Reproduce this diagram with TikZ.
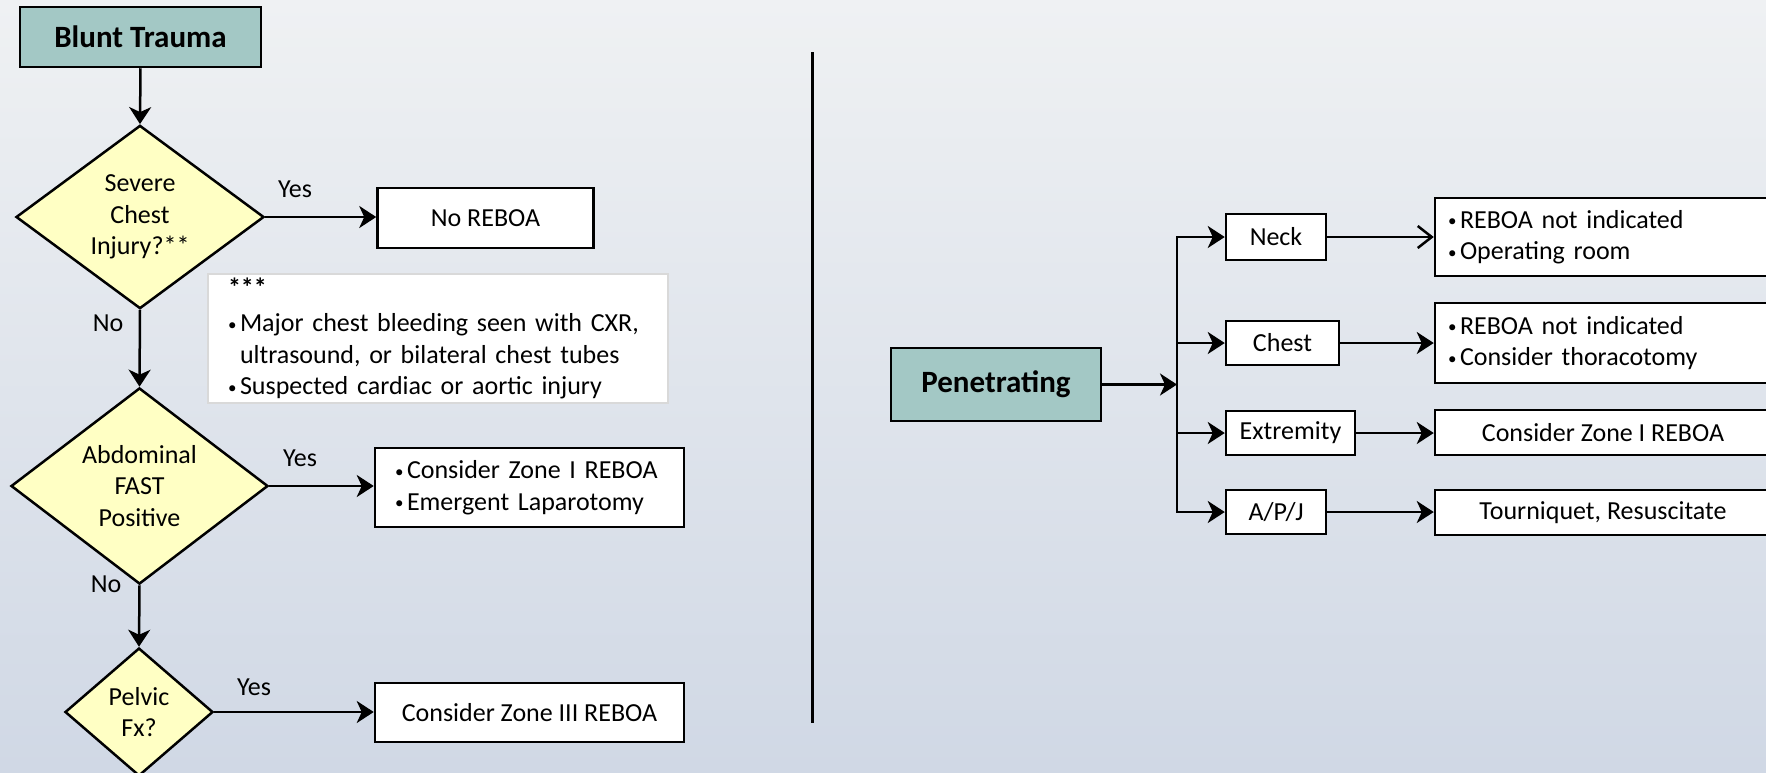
\documentclass[tikz,border=0pt]{standalone}
\usepackage{fontspec}
\setmainfont{Carlito}
\usetikzlibrary{arrows.meta,shapes.geometric}
\definecolor{bgtop}{RGB}{239,241,243}
\definecolor{bgbot}{RGB}{208,216,229}
\definecolor{tealfill}{RGB}{163,200,197}
\definecolor{yelfill}{RGB}{255,255,196}
\definecolor{notegray}{RGB}{217,217,217}
\newcommand\fsn{\fontsize{26}{31.5}\selectfont}
\newcommand\fsb{\fontsize{31}{37}\selectfont\bfseries}
\newcommand\bul{\makebox[12pt][l]{\raisebox{1.5pt}{\fontsize{17}{17}\selectfont •}}}
\newcommand\hng{\makebox[12pt]{}}
\begin{document}
\begin{tikzpicture}[x=1pt,y=-1pt,
  box/.style={draw=black, line width=2.5pt, fill=white, inner sep=0pt, font=\fsn, align=center},
  hdr/.style={box, fill=tealfill, font=\fsb},
  dec/.style={diamond, draw=black, line width=2.5pt, fill=yelfill, inner sep=0pt, font=\fsn, align=center},
  lbl/.style={inner sep=0pt, font=\fsn},
  arr/.style={line width=2.5pt, -{Stealth[length=17pt,width=22pt,inset=5pt]}},
  oarr/.style={line width=2.5pt, -{Straight Barb[length=14pt,width=22pt]}},
  ln/.style={line width=2.5pt}
]
\clip (0,0) rectangle (1766,772);
\shade[top color=bgtop, bottom color=bgbot] (0,0) rectangle (1766,772);

% ---------- Blunt trauma ----------
\node[hdr, minimum width=241pt, minimum height=60pt] (blunt) at (140.5,37) {Blunt Trauma};
\node[dec, minimum width=248pt, minimum height=169pt] (d1) at (140,217) {Severe\\Chest\\Injury?**};
\node[box, minimum width=216pt, minimum height=60pt] (noreboa) at (485.5,218) {No REBOA};
\node[box, draw=notegray, line width=1.5pt, minimum width=460pt, minimum height=129pt,
      text width=420pt, inner xsep=19pt, align=left] (note) at (438,338.5)
  {\textbf{***}\\[4pt]\bul Major chest bleeding seen with CXR,\\\hng ultrasound, or bilateral chest tubes\\\bul Suspected cardiac or aortic injury};
\node[dec, minimum width=257pt, minimum height=160pt] (d2) at (139.5,486) {Abdominal\\FAST\\Positive};
\node[box, minimum width=309pt, minimum height=79pt, text width=269pt, inner xsep=20pt, align=left] (b2) at (529.5,487.5)
  {\bul Consider Zone I REBOA\\\bul Emergent Laparotomy};
\node[dec, minimum width=148pt, minimum height=128pt] (d3) at (139,712) {Pelvic\\Fx?};
\node[box, minimum width=309pt, minimum height=59pt] (b3) at (529.5,712.5) {Consider Zone III REBOA};

\draw[arr] (blunt.south) -- (d1.north);
\draw[arr] (d1.east) -- (d1.east -| noreboa.west);
\draw[arr] (d1.south) -- (d2.north);
\draw[arr] (d2.east) -- (d2.east -| b2.west);
\draw[arr] (d2.south) -- (d3.north);
\draw[arr] (d3.east) -- (d3.east -| b3.west);

\node[lbl] (y1) at (295,189) {Yes};
\node[lbl] (n1) at (108,323) {No};
\node[lbl] (y2) at (300,458) {Yes};
\node[lbl] (n2) at (106,584) {No};
\node[lbl] (y3) at (254,687) {Yes};

% ---------- divider ----------
\coordinate (dvt) at (812,52);
\coordinate (dvb) at (812,723);
\draw[line width=3pt] (dvt) -- (dvb);

% ---------- Penetrating ----------
\node[hdr, minimum width=210pt, minimum height=73pt] (pen) at (996,384.5) {Penetrating};
\coordinate (tr) at (1177,384.5);
\node[box, minimum width=100pt, minimum height=46pt] (neck) at (1276,237) {Neck};
\node[box, minimum width=113pt, minimum height=44pt] (chest) at (1282.5,343) {Chest};
\node[box, minimum width=129pt, minimum height=44pt] (ext) at (1290.5,433) {Extremity};
\node[box, minimum width=100pt, minimum height=44pt] (apj) at (1276,512) {A/P/J};

\node[box, minimum width=336pt, minimum height=78pt, text width=310pt, inner xsep=13pt, align=left] (r1) at (1603,237)
  {\bul REBOA not indicated\\\bul Operating room};
\node[box, minimum width=336pt, minimum height=80pt, text width=310pt, inner xsep=13pt, align=left] (r2) at (1603,343)
  {\bul REBOA not indicated\\\bul Consider thoracotomy};
\node[box, minimum width=336pt, minimum height=45pt] (r3) at (1603,432.5) {Consider Zone I REBOA};
\node[box, minimum width=336pt, minimum height=45pt] (r4) at (1603,512.5) {Tourniquet, Resuscitate};

\draw[arr] (pen.east) -- (tr);
\draw[arr] (tr) |- (neck.west);
\draw[arr] (tr) |- (apj.west);
\draw[arr] (tr |- chest.west) -- (chest.west);
\draw[arr] (tr |- ext.west) -- (ext.west);

\draw[oarr] (neck.east) -- (neck.east -| r1.west);
\draw[arr] (chest.east) -- (chest.east -| r2.west);
\draw[arr] (ext.east) -- (ext.east -| r3.west);
\draw[arr] (apj.east) -- (apj.east -| r4.west);
\end{tikzpicture}
\end{document}
